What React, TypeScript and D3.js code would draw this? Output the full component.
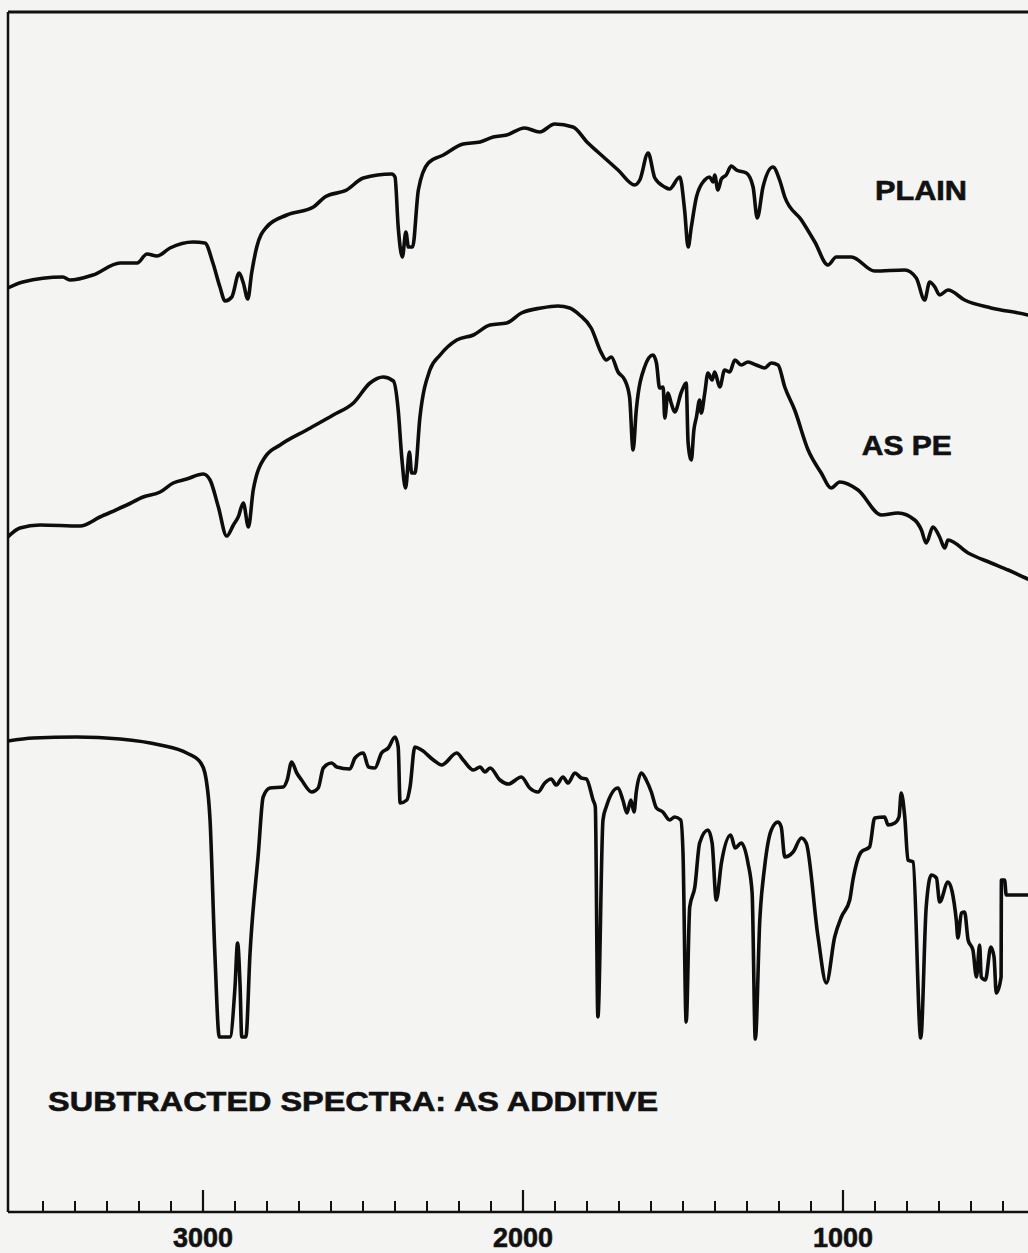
import * as d3 from 'd3'

// wavenumber (cm-1), trace value (chart units, 0 = baseline of frame)
const plainSpectrum: [number, number][] = [
  [3610, 92.4], [3563, 93.0], [3438, 93.5], [3416, 93.2], [3344, 93.7], [3259, 94.9],
  [3206, 94.9], [3175, 95.8], [3144, 95.6], [3103, 96.4], [3031, 97.0], [2994, 96.9],
  [2969, 94.9], [2947, 92.5], [2931, 91.1], [2910, 91.5], [2887, 93.9], [2874, 92.9],
  [2860, 91.3], [2848, 93.9], [2832, 96.5], [2801, 98.5], [2738, 99.7], [2655, 100.5],
  [2619, 101.5], [2551, 102.2], [2499, 103.4], [2410, 103.8], [2400, 103.5], [2390, 98.5],
  [2377, 95.5], [2366, 98.0], [2358, 96.5], [2345, 96.5], [2327, 102.2], [2296, 104.9],
  [2249, 105.7], [2187, 106.8], [2134, 107.0], [2093, 107.5], [2051, 107.7], [1995, 108.4],
  [1948, 108.0], [1901, 108.8], [1844, 108.5], [1797, 106.9], [1766, 106.0], [1703, 104.2],
  [1651, 102.7], [1635, 103.2], [1609, 105.9], [1588, 103.4], [1557, 102.5], [1542, 102.3],
  [1510, 103.5], [1495, 100.2], [1484, 96.5], [1474, 98.5], [1458, 101.5], [1432, 103.2],
  [1417, 103.5], [1406, 103.0], [1401, 103.7], [1391, 102.2], [1380, 103.3], [1365, 103.7],
  [1349, 104.6], [1333, 104.2], [1302, 103.9], [1281, 102.5], [1268, 99.4], [1250, 102.5],
  [1219, 104.5], [1198, 103.2], [1182, 101.5], [1130, 99.2], [1088, 97.0], [1047, 94.7],
  [1021, 95.5], [974, 95.5], [901, 94.1], [807, 94.2], [771, 93.4], [745, 91.2],
  [729, 93.0], [713, 92.5], [698, 91.7], [672, 92.2], [620, 91.2], [537, 90.4],
  [422, 89.7], [400, 89.5],
]

const asPeSpectrum: [number, number][] = [
  [3610, 67.5], [3572, 68.4], [3509, 68.7], [3384, 68.6], [3322, 69.5], [3238, 70.7],
  [3187, 71.5], [3134, 72.0], [3093, 72.9], [3051, 73.3], [2999, 73.8], [2978, 73.2],
  [2952, 70.5], [2926, 67.6], [2905, 68.7], [2890, 69.5], [2874, 70.9], [2858, 68.5],
  [2843, 72.2], [2806, 75.5], [2759, 76.7], [2676, 78.2], [2593, 79.7], [2530, 80.9],
  [2478, 82.9], [2437, 83.5], [2405, 83.1], [2390, 80.2], [2379, 75.5], [2367, 72.4],
  [2355, 76.0], [2348, 73.9], [2338, 73.9], [2322, 79.5], [2291, 84.2], [2259, 85.7],
  [2207, 87.2], [2155, 87.7], [2103, 88.7], [2051, 88.9], [2005, 89.9], [1943, 90.4],
  [1891, 90.6], [1854, 90.4], [1823, 89.7], [1787, 88.4], [1755, 85.9], [1740, 85.2],
  [1724, 85.5], [1703, 84.0], [1682, 83.2], [1667, 81.5], [1656, 76.2], [1646, 80.2],
  [1620, 84.5], [1594, 85.7], [1583, 84.9], [1573, 82.4], [1562, 82.5], [1557, 79.4],
  [1547, 81.9], [1537, 80.9], [1526, 80.0], [1505, 82.0], [1490, 82.9], [1484, 76.9],
  [1474, 75.2], [1466, 78.2], [1458, 79.5], [1448, 81.2], [1443, 79.9], [1432, 81.9],
  [1422, 83.9], [1409, 83.2], [1401, 84.0], [1385, 82.5], [1370, 84.2], [1354, 84.0],
  [1338, 85.2], [1318, 84.7], [1297, 85.0], [1271, 84.7], [1245, 84.4], [1224, 84.9],
  [1203, 84.7], [1182, 82.5], [1151, 80.2], [1109, 76.2], [1068, 73.9], [1037, 72.4],
  [1010, 73.0], [953, 72.2], [880, 69.7], [828, 69.9], [776, 69.2], [755, 68.2],
  [740, 66.9], [719, 68.5], [698, 67.5], [682, 66.4], [672, 67.2], [609, 65.9],
  [537, 64.9], [484, 64.2], [422, 63.3], [400, 63.0],
]

const subtractedSpectrum: [number, number][] = [
  [3610, 47.1], [3530, 47.4], [3395, 47.5], [3259, 47.3], [3134, 46.7], [3051, 45.9],
  [3009, 45.0], [2994, 43.9], [2978, 39.2], [2963, 25.9], [2949, 17.5], [2916, 17.5],
  [2900, 22.5], [2892, 26.9], [2884, 22.5], [2879, 17.5], [2866, 17.5], [2853, 25.9],
  [2827, 35.9], [2812, 41.5], [2791, 42.4], [2749, 42.5], [2737, 43.2], [2723, 45.0],
  [2707, 43.9], [2692, 43.2], [2660, 42.0], [2640, 42.4], [2624, 44.4], [2598, 44.9],
  [2582, 44.5], [2541, 44.3], [2525, 45.4], [2499, 45.9], [2483, 44.5], [2463, 44.4],
  [2442, 45.9], [2421, 46.4], [2400, 47.5], [2390, 46.5], [2384, 40.9], [2363, 41.2],
  [2353, 42.5], [2338, 46.5], [2317, 46.2], [2280, 45.2], [2254, 44.7], [2207, 45.9],
  [2187, 45.2], [2155, 44.2], [2134, 44.5], [2119, 44.0], [2103, 44.4], [2072, 43.2],
  [2046, 42.8], [2005, 43.5], [1979, 42.4], [1953, 42.0], [1932, 42.9], [1912, 43.3],
  [1896, 42.7], [1875, 43.5], [1859, 42.9], [1838, 43.9], [1818, 43.4], [1802, 43.3],
  [1781, 41.2], [1774, 40.5], [1766, 19.5], [1750, 39.2], [1740, 40.5], [1703, 42.4],
  [1688, 41.2], [1675, 39.9], [1663, 41.2], [1653, 40.0], [1646, 42.0], [1630, 43.9],
  [1615, 43.2], [1599, 42.0], [1583, 40.4], [1563, 40.0], [1542, 39.2], [1526, 39.5],
  [1507, 39.2], [1500, 35.9], [1490, 19.0], [1479, 30.5], [1463, 32.5], [1448, 36.9],
  [1422, 38.2], [1409, 36.9], [1396, 31.2], [1380, 34.9], [1351, 37.7], [1337, 36.4],
  [1318, 36.9], [1297, 34.9], [1284, 31.9], [1274, 17.3], [1260, 29.2], [1245, 34.5],
  [1224, 38.2], [1203, 39.0], [1193, 38.5], [1182, 35.5], [1156, 36.0], [1130, 37.4],
  [1115, 36.9], [1078, 27.5], [1052, 22.9], [1026, 27.5], [1005, 29.5], [979, 31.2],
  [969, 33.2], [943, 36.0], [917, 36.5], [901, 39.4], [870, 39.5], [859, 38.7],
  [838, 38.9], [825, 39.5], [818, 41.9], [807, 39.5], [797, 35.2], [781, 35.0],
  [757, 17.4], [740, 30.5], [724, 33.7], [708, 33.4], [698, 31.0], [672, 33.0],
  [646, 29.2], [641, 27.4], [630, 29.9], [620, 30.0], [609, 27.2], [594, 26.2],
  [583, 23.5], [573, 26.7], [568, 23.5], [555, 23.2], [538, 26.5], [528, 25.5],
  [521, 21.9], [506, 23.5], [505, 33.2], [495, 33.2], [490, 31.7], [400, 31.7],
]

const majorTicks = [3000, 2000, 1000]
const minorTicks = [3500, 3400, 3300, 3200, 3100, 2900, 2800, 2700, 2600, 2500, 2400, 2300,
  2200, 2100, 1900, 1800, 1700, 1600, 1500, 1400, 1300, 1200, 1100, 900, 800, 700, 600, 500]

const labels = [
  { text: 'PLAIN', wn: 900, v: 101.2, len: 92 },
  { text: 'AS PE', wn: 941, v: 75.7, len: 90 },
  { text: 'SUBTRACTED SPECTRA: AS ADDITIVE', wn: 3484, v: 10.1, len: 610 },
]

const W = 1028
const H = 1253
const left = 8
const top = 12
const bottom = 1212

export default function App() {
  const x = d3.scaleLinear().domain([3600, 400]).range([11, 1035])
  const y = d3.scaleLinear().domain([0, 120]).range([bottom, 12])

  const line = d3.line<[number, number]>()
    .x(d => x(d[0]))
    .y(d => y(d[1]))
    .curve(d3.curveMonotoneX)

  const font = '"Liberation Sans", Arial, Helvetica, sans-serif'

  return (
    <svg width={W} height={H} style={{ position: 'absolute', left: 0, top: 0 }}>
      <defs>
        <clipPath id="plot">
          <rect x={left} y={top} width={W - left} height={bottom - top} />
        </clipPath>
      </defs>
      <rect width={W} height={H} fill="#f4f4f2" />

      {/* frame */}
      <line x1={left} x2={W} y1={top} y2={top} stroke="#111" strokeWidth={3} />
      <line x1={left} x2={left} y1={top} y2={bottom} stroke="#111" strokeWidth={2.5} />
      <line x1={left} x2={W} y1={bottom} y2={bottom} stroke="#111" strokeWidth={2.5} />

      {/* ticks */}
      {minorTicks.map(t => (
        <line key={t} x1={x(t)} x2={x(t)} y1={bottom} y2={bottom - 11} stroke="#111" strokeWidth={2} />
      ))}
      {majorTicks.map(t => (
        <g key={t}>
          <line x1={x(t)} x2={x(t)} y1={bottom} y2={bottom - 22} stroke="#111" strokeWidth={2.2} />
          <text
            x={x(t)}
            y={1247}
            textAnchor="middle"
            fontFamily={font}
            fontWeight="bold"
            fontSize={28}
            textLength={60}
            lengthAdjust="spacingAndGlyphs"
            fill="#111"
            stroke="#111"
            strokeWidth={0.6}
          >
            {t}
          </text>
        </g>
      ))}

      {/* spectra */}
      <g clipPath="url(#plot)" fill="none" stroke="#0d0d0d" strokeWidth={3.6} strokeLinejoin="round" strokeLinecap="round">
        <path d={line(plainSpectrum) ?? ''} />
        <path d={line(asPeSpectrum) ?? ''} />
        <path d={line(subtractedSpectrum) ?? ''} />
      </g>

      {labels.map(l => (
        <text
          key={l.text}
          x={x(l.wn)}
          y={y(l.v)}
          fontFamily={font}
          fontWeight="bold"
          fontSize={28}
          textLength={l.len}
          lengthAdjust="spacingAndGlyphs"
          fill="#111"
          stroke="#111"
          strokeWidth={0.6}
        >
          {l.text}
        </text>
      ))}
    </svg>
  )
}
